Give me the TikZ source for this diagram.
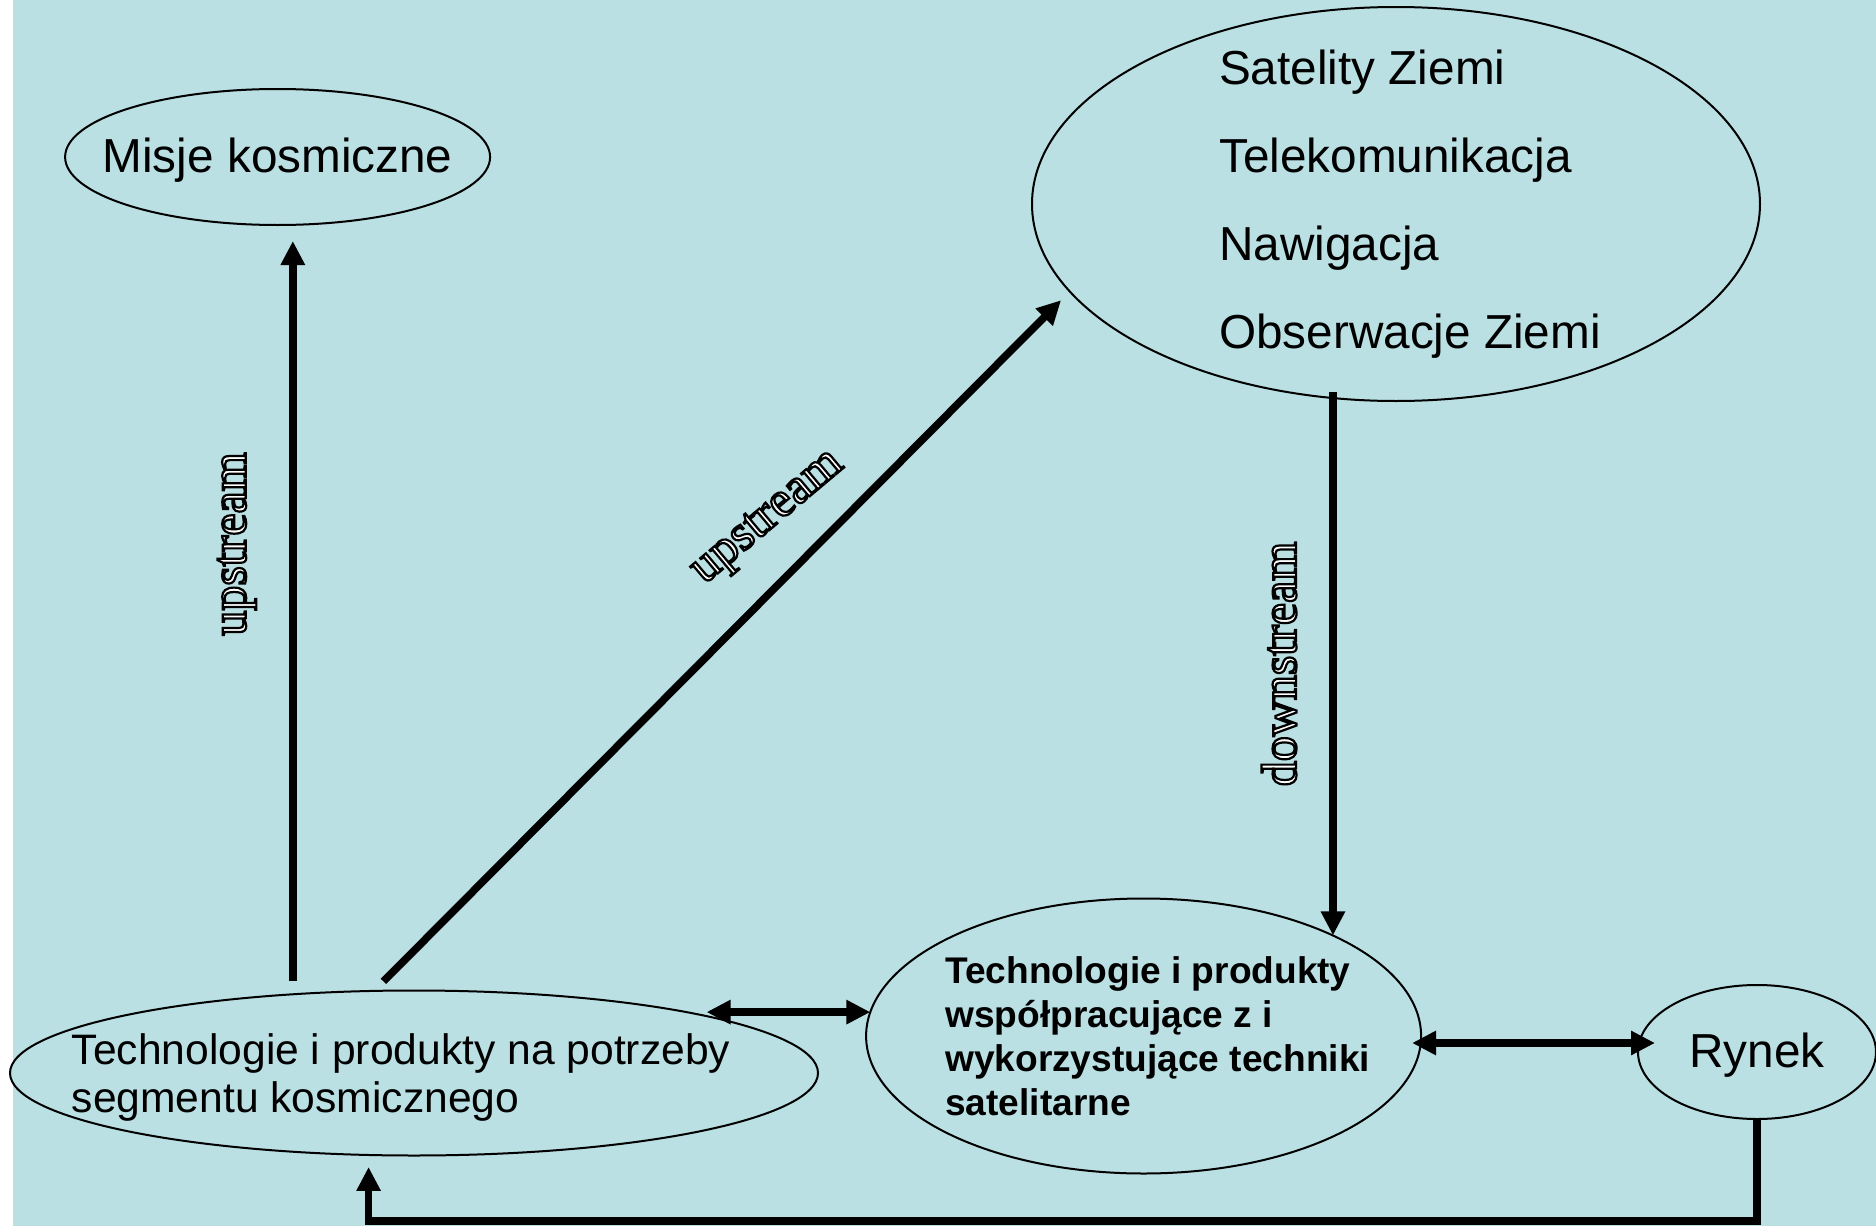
\documentclass[tikz,border=0pt]{standalone}
\usepackage{fontspec}
\setmainfont{Liberation Sans}
\newfontfamily\lblfont{Liberation Serif}
\usetikzlibrary{arrows.meta,shapes.geometric}
\definecolor{slidebg}{RGB}{186,224,227}
% white letters with a black outline
\newcommand{\outlined}[1]{\special{pdf:literal direct 0 G 1.1 w 2 Tr}#1\special{pdf:literal direct 0 Tr}}

\begin{document}
\begin{tikzpicture}[
    x=0.5pt, y=-0.5pt,
    >={Triangle[length=12pt,width=11.5pt]},
    oval/.style={ellipse, draw, fill=slidebg, line width=1pt,
                 inner sep=0pt, outer sep=0pt},
    txt/.style={align=left, inner sep=0pt},
    bigtxt/.style={txt, font=\fontsize{23.85}{44}\selectfont},
    midtxt/.style={txt, font=\fontsize{21.3}{24}\selectfont},
    boldtxt/.style={txt, font=\bfseries\fontsize{18.55}{22}\selectfont},
    flow/.style={->, line width=3.8pt},
    biflow/.style={<->, line width=3.8pt},
    lbl/.style={font=\lblfont\fontsize{25}{30}\selectfont, text=white,
                inner sep=0pt}
  ]
  \useasboundingbox (0,0) rectangle (1876,1226);
  \fill[slidebg] (0,0) rectangle (1876,1226);
  \fill[white] (0,0) rectangle (13,1226);

  % Ellipses.
  \node[oval, minimum width=212.5pt, minimum height=68pt]  (misje)     at (277.6,157)  {};
  \node[oval, minimum width=364pt, minimum height=197pt]   (sats)      at (1396,204)   {};
  \node[oval, minimum width=404pt, minimum height=82.5pt]  (techspace) at (414,1073)   {};
  \node[oval, minimum width=277.5pt, minimum height=137.5pt] (satprod) at (1143.6,1036) {};
  \node[oval, minimum width=119pt, minimum height=67pt]    (rynek)     at (1757,1052)  {};

  % Texts inside the ellipses.
  \node[bigtxt] (misjetxt) at ([yshift=-1.8pt]misje.center) {Misje kosmiczne};
  \node[bigtxt] (satstxt)  at ([xshift=7pt]sats.center)
    {Satelity Ziemi\\Telekomunikacja\\Nawigacja\\Obserwacje Ziemi};
  \node[midtxt] (techtxt)  at ([xshift=-6.5pt,yshift=-2.2pt]techspace.center)
    {Technologie i produkty na potrzeby\\segmentu kosmicznego};
  \node[boldtxt] (prodtxt) at ([xshift=7pt]satprod.center)
    {Technologie i produkty\\współpracujące z i\\wykorzystujące techniki\\satelitarne};
  \node[bigtxt] (ryntxt)   at ([yshift=-1.8pt]rynek.center) {Rynek};

  % Upstream edges.
  \draw[flow, shorten <=6.6pt, shorten >=8pt]
    (techspace.147) -- (techspace.147 |- misje.south);
  \draw[flow, shorten <=6.7pt, shorten >=6.2pt]
    (techspace.116) -- (sats.195);

  % Downstream edge.
  \draw[flow, shorten <=-3pt] (sats.252) -- (sats.252 |- satprod.28);

  % Two-way edges along the bottom row.
  \draw[biflow] (satprod.175 -| techspace.11) -- (satprod.175);
  \draw[biflow] ([shift={(-4.5pt,-3.5pt)}]satprod.east) --
    ([shift={(8.5pt,-3.5pt)}]satprod.east -| rynek.west);

  % Feedback from the market.
  \draw[flow, shorten >=6pt] (rynek.south) -- ++(0,102) -| (techspace.241);

  % Edge labels.
  \node[lbl, rotate=90] (uplbl)   at (237,544)  {\outlined{upstream}};
  \node[lbl, rotate=40] (diaglbl) at (769,519)  {\outlined{upstream}};
  \node[lbl, rotate=90] (downlbl) at (1279,664) {\outlined{downstream}};

\end{tikzpicture}
\end{document}
